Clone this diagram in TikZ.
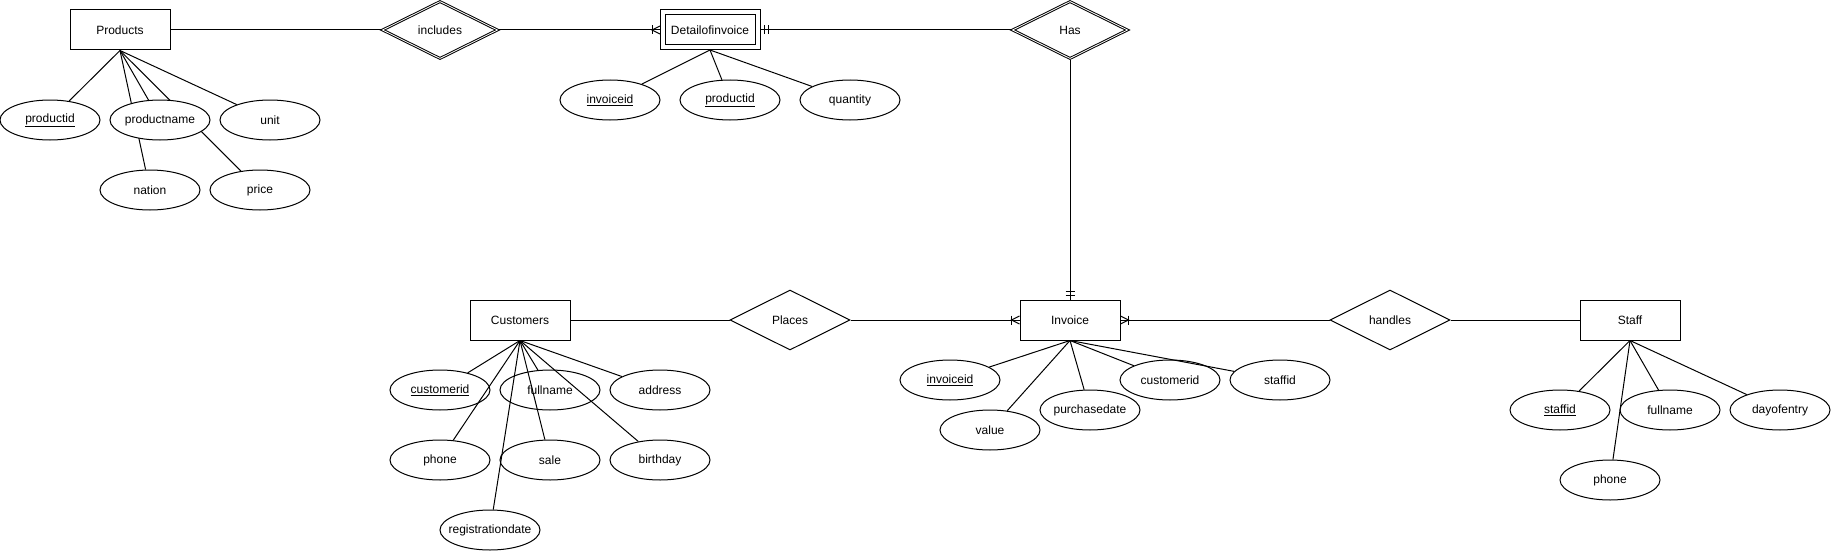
\documentclass[tikz,border=0pt]{standalone}
\usepackage{fontspec}
\setmainfont{Liberation Sans}
\usetikzlibrary{shapes.geometric,backgrounds}
\tikzset{
  entity/.style={draw, fill=white, rectangle, minimum width=100pt, minimum height=40pt, inner sep=0pt},
  weakentity/.style={entity, double, double distance=4pt, minimum width=95pt, minimum height=35pt, outer sep=2.5pt},
  attrib/.style={draw, fill=white, ellipse, minimum width=100pt, minimum height=40pt, inner sep=0pt},
  rel/.style={draw, fill=white, diamond, aspect=2, minimum width=120pt, minimum height=60pt, inner sep=0pt},
  idrel/.style={rel, double, double distance=0.8pt, minimum width=116pt, minimum height=58pt, outer sep=1.4pt},
}
\begin{document}
\begin{tikzpicture}[x=1pt, y=-1pt, line width=1pt, font=\fontsize{12}{14}\selectfont]
          \useasboundingbox (0, 0) rectangle (1831, 551);
          % entities and relationships
          \node[entity] (Prod) at (120, 30) {Products};
          \node[idrel] (Incl) at (440, 30) {includes};
          \node[weakentity] (Det) at (710, 30) {Detailofinvoice};
          \node[idrel] (Has) at (1070, 30) {Has};
          \node[entity] (Cust) at (520, 320) {Customers};
          \node[rel] (Plc) at (790, 320) {Places};
          \node[entity] (Inv) at (1070, 320) {Invoice};
          \node[rel] (Hnd) at (1390, 320) {handles};
          \node[entity] (Stf) at (1630, 320) {Staff};
          % attributes of Products
          \node[attrib] (PId) at (50, 120) {\underline{productid}};
          \node[attrib] (PName) at (160, 120) {productname};
          \node[attrib] (PUnit) at (270, 120) {unit};
          \node[attrib] (PNat) at (150, 190) {nation};
          \node[attrib] (PPrice) at (260, 190) {price};
          % attributes of Detailofinvoice
          \node[attrib] (DInv) at (610, 100) {\underline{invoiceid}};
          \node[attrib] (DProd) at (730, 100) {\underline{productid}};
          \node[attrib] (DQty) at (850, 100) {quantity};
          % attributes of Customers
          \node[attrib] (CId) at (440, 390) {\underline{customerid}};
          \node[attrib] (CName) at (550, 390) {fullname};
          \node[attrib] (CAddr) at (660, 390) {address};
          \node[attrib] (CPhone) at (440, 460) {phone};
          \node[attrib] (CSale) at (550, 460) {sale};
          \node[attrib] (CBday) at (660, 460) {birthday};
          \node[attrib] (CReg) at (490, 530) {\makebox[0pt]{registrationdate}};
          % attributes of Invoice
          \node[attrib] (IId) at (950, 380) {\underline{invoiceid}};
          \node[attrib] (IVal) at (990, 430) {value};
          \node[attrib] (IDate) at (1090, 410) {\makebox[0pt]{purchasedate}};
          \node[attrib] (ICust) at (1170, 380) {customerid};
          \node[attrib] (IStf) at (1280, 380) {staffid};
          % attributes of Staff
          \node[attrib] (SId) at (1560, 410) {\underline{staffid}};
          \node[attrib] (SName) at (1670, 410) {fullname};
          \node[attrib] (SDay) at (1780, 410) {dayofentry};
          \node[attrib] (SPhone) at (1610, 480) {phone};
          % Products lines go under the ellipses
          \begin{scope}[on background layer={line width=1pt}]
            \fill[white] (0, 0) rectangle (1831, 551);
            \foreach \a in {PId, PName, PUnit, PNat, PPrice}
              \draw (Prod.south) -- (\a);
          \end{scope}
          \foreach \a in {DInv, DProd, DQty}
            \draw (Det.south) -- (\a);
          \foreach \a in {CId, CName, CAddr, CPhone, CSale, CBday, CReg}
            \draw (Cust.south) -- (\a);
          \foreach \a in {IId, IVal, IDate, ICust, IStf}
            \draw (Inv.south) -- (\a);
          \foreach \a in {SId, SName, SDay, SPhone}
            \draw (Stf.south) -- (\a);
          % relationship lines
          \draw (Prod.east) -- (Incl.west);
          \draw (Incl.east) -- (Det.west);
          \draw (Det.east) -- (Has.west);
          \draw (Has.south) -- (Inv.north);
          \draw (Cust.east) -- (Plc.west);
          \draw (Plc.east) -- (Inv.west);
          \draw (Inv.east) -- (Hnd.west);
          \draw (Hnd.east) -- (Stf.west);
          % one or many
          \draw ([yshift=4pt]Det.west) -- ([xshift=-8pt]Det.west) -- ([yshift=-4pt]Det.west);
          \draw ([xshift=-8pt, yshift=4.5pt]Det.west) -- ([xshift=-8pt, yshift=-4.5pt]Det.west);
          \draw ([yshift=4pt]Inv.west) -- ([xshift=-8pt]Inv.west) -- ([yshift=-4pt]Inv.west);
          \draw ([xshift=-8pt, yshift=4.5pt]Inv.west) -- ([xshift=-8pt, yshift=-4.5pt]Inv.west);
          \draw ([yshift=4pt]Inv.east) -- ([xshift=8pt]Inv.east) -- ([yshift=-4pt]Inv.east);
          \draw ([xshift=8pt, yshift=4.5pt]Inv.east) -- ([xshift=8pt, yshift=-4.5pt]Inv.east);
          % mandatory one
          \foreach \d in {4pt, 8pt} {
            \draw ([xshift=\d, yshift=4.5pt]Det.east) -- ([xshift=\d, yshift=-4.5pt]Det.east);
            \draw ([xshift=-4.5pt, yshift=\d]Inv.north) -- ([xshift=4.5pt, yshift=\d]Inv.north);
          }
        \end{tikzpicture}
\end{document}
